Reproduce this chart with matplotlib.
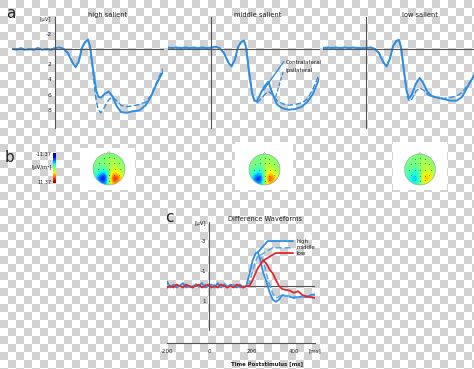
import numpy as np
import matplotlib.pyplot as plt
from matplotlib.colors import ListedColormap
from matplotlib.patches import Circle, Rectangle

# ---- data -------------------------------------------------------------
# panel a : ERPs (uV, negative up), time in ms
t_a = [-200, -180, -160, -140, -120, -100, -80, -60, -40, -20,
       0, 20, 40, 60, 80, 95, 110, 125, 140, 152,
       162, 175, 190, 200, 212, 230, 248, 265, 285, 305,
       330, 360, 390, 420, 445, 470, 500]
high_contra = [0.0, 0.1, -0.1, 0.1, 0.0, 0.1, -0.1, 0.1, 0.0, 0.1,
               -0.1, -0.2, 0.0, 0.6, 1.8, 2.4, 1.6, -0.2, -0.9, -1.2,
               -0.3, 2.5, 5.4, 6.3, 6.4, 5.9, 5.6, 6.2, 7.5, 8.3,
               8.4, 8.2, 8.1, 7.4, 6.2, 4.6, 3.0]
high_ipsi = [0.0, 0.0, -0.1, 0.1, 0.1, 0.0, -0.1, 0.0, 0.1, 0.0,
             -0.1, -0.2, 0.0, 0.5, 1.7, 2.3, 1.5, -0.3, -1.0, -1.3,
             -0.2, 3.0, 6.8, 8.0, 8.4, 7.6, 6.7, 6.3, 6.8, 7.4,
             7.6, 7.5, 7.3, 7.0, 6.1, 4.4, 2.6]
mid_contra = [-0.2, -0.1, -0.2, -0.1, -0.2, -0.1, -0.2, -0.1, -0.2, -0.1,
              -0.2, -0.3, -0.1, 0.6, 1.8, 2.3, 1.4, -0.3, -0.9, -1.1,
              -0.2, 2.8, 5.8, 6.8, 6.9, 5.8, 4.9, 4.3, 5.9, 7.3,
              7.8, 8.0, 7.9, 7.6, 7.0, 6.0, 4.0]
mid_ipsi = [-0.1, -0.2, -0.1, -0.2, -0.1, -0.2, -0.1, -0.2, -0.1, -0.2,
            -0.1, -0.3, -0.1, 0.5, 1.7, 2.2, 1.4, -0.3, -1.0, -1.2,
            -0.3, 3.0, 6.0, 6.6, 7.1, 6.6, 6.0, 5.6, 6.0, 6.8,
            7.2, 7.4, 7.3, 7.1, 6.6, 5.4, 3.4]
low_contra = [-0.1, -0.2, -0.1, -0.2, -0.1, -0.2, -0.1, -0.2, -0.1, -0.1,
              -0.1, -0.2, 0.0, 0.6, 1.8, 2.3, 1.3, -0.4, -1.0, -1.2,
              -0.2, 2.8, 5.8, 6.5, 6.0, 4.6, 3.8, 4.5, 5.7, 6.2,
              6.4, 6.6, 6.8, 6.8, 6.3, 5.0, 3.5]
low_ipsi = [-0.2, -0.1, -0.2, -0.1, -0.2, -0.1, -0.2, -0.1, -0.2, -0.1,
            -0.1, -0.2, 0.0, 0.5, 1.7, 2.2, 1.3, -0.4, -1.1, -1.3,
            -0.3, 3.0, 6.2, 6.9, 6.6, 5.6, 5.1, 5.4, 6.0, 6.3,
            6.4, 6.5, 6.4, 6.2, 5.7, 4.8, 3.5]
titles_a = ["high salient", "middle salient", "low salient"]
yticks_a = [-2, 2, 4, 6, 8]

# panel b : topographies (uV/m^2), 7x7 grid, top row = front of head
cb_lim = 11.37
topo_high = [[0, 0, 0, 0, 0, 0, 0],
             [0, 0, 0, 1, 1, 1, 0],
             [0, 0, 0, 1, 2, 1, 0],
             [-1, -1, -2, 0, 3, 2, 1],
             [-1, -3, -5, 0, 5, 3, 1],
             [-2, -9, -11, 0, 11, 9, 2],
             [-1, -4, -6, 0, 6, 4, 1]]
topo_mid = [[0, 0, 0, 0, 0, 0, 0],
            [0, 0, 0, 1, 1, 1, 0],
            [0, 0, -1, 1, 2, 1, 0],
            [-1, -1, -2, 0, 3, 2, 1],
            [-1, -3, -5, 0, 5, 3, 1],
            [-2, -8, -10, 0, 9, 7, 2],
            [-1, -4, -5, 0, 5, 4, 1]]
topo_low = [[0, 0, 0, 0, 0, 0, 0],
            [0, 0, 0, 1, 1, 1, 0],
            [0, 0, -1, 1, 2, 1, 0],
            [-1, -1, -2, 0, 2, 2, 1],
            [-1, -2, -3, 0, 4, 3, 1],
            [-1, -4, -5, 0, 6, 5, 1],
            [-1, -2, -3, 0, 3, 2, 1]]
elec_x = [-0.3, 0, 0.3, -0.6, -0.3, 0, 0.3, 0.6, -0.7, -0.35, 0, 0.35, 0.7,
          -0.6, -0.3, 0, 0.3, 0.6, -0.3, 0, 0.3]
elec_y = [-0.7, -0.75, -0.7, -0.35, -0.4, -0.4, -0.4, -0.35, 0, 0, 0, 0, 0,
          0.35, 0.4, 0.4, 0.4, 0.35, 0.7, 0.75, 0.7]

# panel c : difference waveforms
t_c = [-200, -185, -170, -155, -140, -125, -110, -95, -80, -65,
       -50, -35, -20, -5, 10, 25, 40, 55, 70, 85,
       100, 115, 130, 145, 160, 175, 190, 205, 220, 230,
       240, 255, 270, 285, 300, 315, 330, 345, 360, 380,
       400, 420, 440, 460, 480, 500]
high_diff = [-0.3, 0.1, -0.1, 0.1, 0.0, -0.2, 0.1, 0.0, 0.1, -0.1,
             0.0, -0.2, 0.1, 0.0, -0.1, 0.1, -0.2, 0.1, -0.1, 0.1,
             -0.1, 0.0, 0.1, -0.1, 0.1, 0.0, -0.8, -1.7, -2.2, -2.25,
             -1.8, -0.9, -0.3, 0.4, 0.9, 1.05, 0.9, 0.6, 0.65, 0.7,
             0.8, 0.75, 0.7, 0.75, 0.6, 0.55]
mid_diff = [-0.1, 0.0, 0.1, -0.1, 0.1, 0.0, -0.1, 0.1, 0.0, -0.2,
            0.1, 0.0, -0.1, 0.1, 0.0, -0.1, 0.1, 0.0, -0.2, 0.0,
            0.1, -0.1, 0.0, 0.1, 0.0, -0.1, -0.2, -1.0, -1.7, -1.95,
            -2.05, -1.7, -0.8, -0.1, 0.5, 0.8, 0.7, 0.6, 0.65, 0.7,
            0.7, 0.75, 0.7, 0.65, 0.7, 0.6]
low_diff = [0.1, 0.0, 0.1, -0.1, 0.0, 0.1, -0.1, 0.0, 0.1, 0.0,
            -0.1, 0.1, 0.0, -0.1, 0.1, 0.0, 0.1, -0.1, 0.0, 0.1,
            0.0, 0.1, -0.1, 0.0, 0.1, 0.0, 0.0, -0.4, -0.9, -1.2,
            -1.4, -1.7, -1.5, -1.1, -0.85, -0.4, 0.0, 0.2, 0.25, 0.3,
            0.45, 0.35, 0.6, 0.7, 0.75, 0.8]
diff_names = ["high", "middle", "low"]

# ---- figure -----------------------------------------------------------
W, H = 474, 369
blue = "#2e8ee0"
lblue = "#55aaea"
red = "#e3262b"
axc = "#555555"
txt = "#222222"
fs = 4.8      # titles
fs_s = 4.0    # small labels

fig = plt.figure(figsize=(W / 100, H / 100), dpi=100)

def box(x0, y0, x1, y1):
    # pixel box (top-left origin) -> figure fraction
    return [x0 / W, 1 - y1 / H, (x1 - x0) / W, (y1 - y0) / H]

# checkerboard background
bg = fig.add_axes([0, 0, 1, 1], zorder=0)
ny, nx = H // 8 + 1, W // 8 + 1
yy, xx = np.indices((ny, nx))
bg.imshow((yy + xx) % 2 == 0, cmap=ListedColormap(["white", "#d2d2d2"]),
          extent=(0, nx * 8, ny * 8, 0), interpolation="nearest", aspect="auto")
bg.set_xlim(0, W)
bg.set_ylim(H, 0)
bg.axis("off")

def clean(ax, lsize):
    ax.patch.set_visible(False)
    for s in ["top", "right"]:
        ax.spines[s].set_visible(False)
    for s in ["left", "bottom"]:
        ax.spines[s].set_color(axc)
        ax.spines[s].set_linewidth(0.8)
    ax.tick_params(length=0, labelsize=lsize, labelcolor=txt, pad=2.5)

# ---- panel a ----
bg.text(11, 14, "a", fontsize=11, color="#222", ha="center", va="center")
series_a = [(high_contra, high_ipsi), (mid_contra, mid_ipsi), (low_contra, low_ipsi)]
x_starts = [12, 168, 323]
title_x = [108, 258, 420]
for i, (contra, ipsi) in enumerate(series_a):
    ax = fig.add_axes(box(x_starts[i], 17, x_starts[i] + 151, 128), zorder=2)
    clean(ax, 4.4)
    ax.plot(t_a, contra, color=blue, lw=1.4)
    ax.plot(t_a, ipsi, color=blue, lw=1.0, ls=(0, (4, 1.8)))
    ax.set_xlim(-200, 500)
    ax.set_ylim(10.4, -4.2)
    ax.spines["left"].set_position(("data", 0))
    ax.spines["bottom"].set_position(("data", 0))
    ax.set_xticks([])
    if i == 0:
        ax.set_yticks(yticks_a)
        ax.set_yticklabels([str(v) for v in yticks_a])
        bg.text(51, 19, "[\u00b5V]", fontsize=fs_s, color=txt, ha="right", va="center")
    else:
        ax.set_yticks([])
    bg.text(title_x[i], 15, titles_a[i], fontsize=fs, color=txt, ha="center", va="center")
    if i == 1:
        # leaders to the legend labels
        ax.plot([243, 336], [5.4, 1.7], color=blue, lw=1.0)
        ax.plot([299, 336], [6.3, 2.8], color=blue, lw=0.9, ls=(0, (3, 1.5)))
        ax.text(345, 1.8, "Contralateral", fontsize=fs_s, color=txt, va="center")
        ax.text(345, 2.8, "Ipsilateral", fontsize=fs_s, color=txt, va="center")

# ---- panel b ----
bg.text(10, 158, "b", fontsize=11, color="#222", ha="center", va="center")
cax = fig.add_axes(box(53, 153, 56, 183), zorder=2)
cax.imshow(np.linspace(-cb_lim, cb_lim, 100).reshape(-1, 1), cmap="jet",
           vmin=-cb_lim, vmax=cb_lim, aspect="auto")
cax.axis("off")
bg.text(52, 154, "-%.2f" % cb_lim, fontsize=3.6, color=txt, ha="right", va="center")
bg.text(52, 168, "[\u00b5V/m\u00b2]", fontsize=3.9, color=txt, ha="right", va="center")
bg.text(52, 183, "%.2f" % cb_lim, fontsize=3.6, color=txt, ha="right", va="center")

rects = [(80, 148, 135, 190), (235, 142, 293, 190), (393, 142, 447, 190)]
heads = [(109, 169, 16), (264.5, 169.5, 15.5), (420, 169.5, 15.5)]
for grid, (rx0, ry0, rx1, ry1), (cx, cy, r) in zip([topo_high, topo_mid, topo_low], rects, heads):
    bg.add_patch(Rectangle((rx0, ry0), rx1 - rx0, ry1 - ry0, facecolor="white", edgecolor="none"))
    hx = fig.add_axes(box(cx - 1.15 * r, cy - 1.15 * r, cx + 1.15 * r, cy + 1.15 * r), zorder=2)
    im = hx.imshow(np.array(grid, float), cmap="jet", vmin=-cb_lim, vmax=cb_lim,
                   extent=(-1, 1, 1, -1), interpolation="bicubic")
    im.set_clip_path(Circle((0, 0), 1, transform=hx.transData))
    hx.add_patch(Circle((0, 0), 1, fill=False, edgecolor="#999", lw=0.4))
    hx.plot([-0.1, 0, 0.1], [-0.99, -1.1, -0.99], color="#999", lw=0.4)
    hx.scatter(elec_x, elec_y, s=0.4, color="#333", alpha=0.5, lw=0)
    hx.set_xlim(-1.15, 1.15)
    hx.set_ylim(1.15, -1.15)
    hx.axis("off")

# ---- panel c ----
bg.text(169, 218, "c", fontsize=11, color="#222", ha="center", va="center")
bg.text(265, 219, "Difference Waveforms", fontsize=fs, color=txt, ha="center", va="center")
bg.text(267, 364, "Time Poststimulus [ms]", fontsize=3.9, color=txt, ha="center",
        va="center", fontweight="bold")
bg.text(206, 224, "[\u00b5V]", fontsize=fs_s, color=txt, ha="right", va="center")

ax = fig.add_axes(box(167, 222, 315, 343), zorder=2)
clean(ax, 4.0)
ax.set_xlim(-200, 500)
ax.set_ylim(3.8, -4.27)
ax.spines["left"].set_position(("data", 0))
ax.spines["left"].set_bounds(-4.27, 2.93)
ax.axhline(0, color=axc, lw=0.8)
ax.set_xticks([-200, 0, 200, 400, 500])
ax.set_xticklabels(["-200", "0", "200", "400", "[ms]"])
ax.set_yticks([-3, -1, 1])
ax.set_yticklabels(["-3", "-1", "1"])
ax.tick_params(axis="x", pad=4)

diffs = [high_diff, mid_diff, low_diff]
styles = [(blue, "-", 1.3), (lblue, (0, (4, 1.8)), 1.1), (red, "-", 1.3)]
elbow_t = [276, 300, 314]
label_y = [-3.0, -2.55, -2.2]
for d, (c, ls, lw), et, ly, name in zip(diffs, styles, elbow_t, label_y, diff_names):
    ax.plot(t_c, d, color=c, ls=ls, lw=lw)
    k = int(np.argmin(d))
    ax.plot([t_c[k], et, 395], [d[k], ly, ly], color=c, ls=ls, lw=lw)
    ax.text(412, ly, name, fontsize=fs_s, color=txt, va="center")

fig.savefig("out.png", dpi=100)
